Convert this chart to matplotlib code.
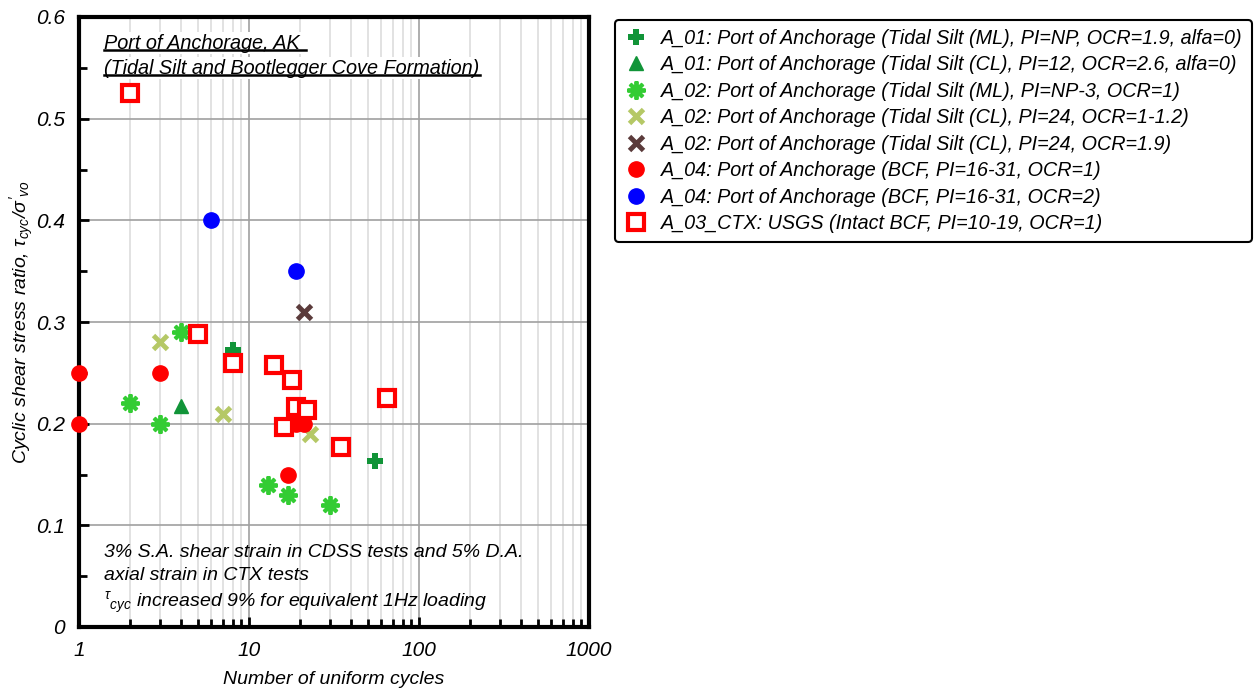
import numpy as np
import matplotlib.pyplot as plt
import matplotlib.ticker as ticker
from matplotlib.lines import Line2D

plt.rcParams['font.family'] = ['Liberation Sans', 'DejaVu Sans']
plt.rcParams['font.style'] = 'italic'
plt.rcParams['mathtext.fontset'] = 'custom'
plt.rcParams['mathtext.it'] = 'Liberation Sans:italic'
plt.rcParams['mathtext.rm'] = 'Liberation Sans:italic'

# data
a01_ml_x = [8, 55]
a01_ml_y = [0.272, 0.163]
a01_cl_x = [4]
a01_cl_y = [0.217]
a02_ml_x = [2, 3, 4, 13, 17, 30]
a02_ml_y = [0.22, 0.20, 0.29, 0.14, 0.13, 0.12]
a02_cl_x = [3, 7, 23]
a02_cl_y = [0.28, 0.21, 0.19]
a02_cl19_x = [21]
a02_cl19_y = [0.31]
a04_ocr1_x = [1, 1, 3, 19, 21, 17]
a04_ocr1_y = [0.25, 0.20, 0.25, 0.20, 0.20, 0.15]
a04_ocr2_x = [6, 19]
a04_ocr2_y = [0.40, 0.35]
a03_x = [2, 5, 8, 14, 18, 19, 22, 16, 35, 65]
a03_y = [0.525, 0.288, 0.26, 0.258, 0.243, 0.216, 0.213, 0.197, 0.177, 0.225]

labels = [
    "A_01: Port of Anchorage (Tidal Silt (ML), PI=NP, OCR=1.9, alfa=0)",
    "A_01: Port of Anchorage (Tidal Silt (CL), PI=12, OCR=2.6, alfa=0)",
    "A_02: Port of Anchorage (Tidal Silt (ML), PI=NP-3, OCR=1)",
    "A_02: Port of Anchorage (Tidal Silt (CL), PI=24, OCR=1-1.2)",
    "A_02: Port of Anchorage (Tidal Silt (CL), PI=24, OCR=1.9)",
    "A_04: Port of Anchorage (BCF, PI=16-31, OCR=1)",
    "A_04: Port of Anchorage (BCF, PI=16-31, OCR=2)",
    "A_03_CTX: USGS (Intact BCF, PI=10-19, OCR=1)",
]

fig = plt.figure(figsize=(12.58, 6.91), dpi=100)
ax = fig.add_axes([79 / 1258, 64 / 691, 510 / 1258, 610 / 691])

ax.plot(a01_ml_x, a01_ml_y, 'P', color='#119438', ms=11, mew=0, ls='none', label=labels[0], clip_on=False, zorder=5)
ax.plot(a01_cl_x, a01_cl_y, '^', color='#119438', ms=10, ls='none', label=labels[1], clip_on=False, zorder=5)
ax.plot(a02_ml_x, a02_ml_y, marker=(8, 2, 0), color='#33cc33', ms=13, mew=2.8, ls='none', label=labels[2], clip_on=False, zorder=5)
ax.plot(a02_cl_x, a02_cl_y, 'x', color='#b5c866', ms=10, mew=3.5, ls='none', label=labels[3], clip_on=False, zorder=5)
ax.plot(a02_cl19_x, a02_cl19_y, 'x', color='#5b3b3b', ms=10, mew=3.5, ls='none', label=labels[4], clip_on=False, zorder=5)
ax.plot(a04_ocr1_x, a04_ocr1_y, 'o', color='#ff0000', ms=11, ls='none', label=labels[5], clip_on=False, zorder=5)
ax.plot(a04_ocr2_x, a04_ocr2_y, 'o', color='#0000ff', ms=11, ls='none', label=labels[6], clip_on=False, zorder=5)
ax.plot(a03_x, a03_y, 's', mfc='white', mec='#ff0000', mew=3, ms=11, ls='none', label=labels[7], clip_on=False, zorder=5)

ax.set_xscale('log')
ax.set_xlim(1, 1000)
ax.set_ylim(0, 0.6)
ax.xaxis.set_major_formatter(ticker.FuncFormatter(lambda v, p: '%g' % v))
ax.yaxis.set_major_locator(ticker.MultipleLocator(0.1))
ax.yaxis.set_minor_locator(ticker.MultipleLocator(0.05))
ax.yaxis.set_major_formatter(ticker.FuncFormatter(lambda v, p: '%g' % round(v, 1)))
ax.tick_params(which='both', direction='in', labelsize=15, width=2)
ax.tick_params(which='major', length=7)
ax.tick_params(which='minor', length=6)
ax.tick_params(axis='x', pad=10)
ax.tick_params(axis='y', pad=10)
for s in ax.spines.values():
    s.set_linewidth(3)

ax.grid(which='major', color='#a0a0a0', lw=1.2)
ax.grid(which='minor', axis='x', color='#dddddd', lw=1.2)

ax.set_xlabel('Number of uniform cycles', fontsize=14, labelpad=8)
ax.set_ylabel(r"Cyclic shear stress ratio, $\tau_{cyc}/\sigma'_{vo}$", fontsize=14, labelpad=0)

t1 = ax.text(0.05, 0.957, 'Port of Anchorage, AK ', transform=ax.transAxes, fontsize=14.3,
             va='center', ha='left', zorder=6)
t2 = ax.text(0.05, 0.916, '(Tidal Silt and Bootlegger Cove Formation)', transform=ax.transAxes,
             fontsize=14.3, va='center', ha='left', zorder=6)
t1.set_bbox(dict(facecolor='white', edgecolor='none', pad=1))
t2.set_bbox(dict(facecolor='white', edgecolor='none', pad=1))

ax.text(0.05, 0.122, '3% S.A. shear strain in CDSS tests and 5% D.A.',
        transform=ax.transAxes, fontsize=14, va='center', ha='left')
ax.text(0.05, 0.084, 'axial strain in CTX tests',
        transform=ax.transAxes, fontsize=14, va='center', ha='left')
ax.text(0.05, 0.04, r"$^{\tau}{}_{cyc}$ increased 9% for equivalent 1Hz loading",
        transform=ax.transAxes, fontsize=14, va='center', ha='left')

leg = ax.legend(loc='upper left', bbox_to_anchor=(615 / 1258, 1 - 20 / 691),
                bbox_transform=fig.transFigure, fontsize=14.2, frameon=True,
                fancybox=True, handletextpad=0.7, labelspacing=0.38, borderpad=0.45,
                handlelength=1.2, borderaxespad=0)
leg.get_frame().set_edgecolor('black')
leg.get_frame().set_linewidth(1.5)
leg.get_frame().set_alpha(1)

# underline the title lines
fig.canvas.draw()
r = fig.canvas.get_renderer()
inv = ax.transAxes.inverted()
for t in (t1, t2):
    bb = t.get_window_extent(r)
    (x0, y0), (x1, y1) = inv.transform([(bb.x0, bb.y0), (bb.x1, bb.y1)])
    ax.add_line(Line2D([x0, x1], [y0 + 0.004, y0 + 0.004], transform=ax.transAxes,
                       color='black', lw=1.8, zorder=7, clip_on=False))

fig.savefig('out.png', dpi=100)
